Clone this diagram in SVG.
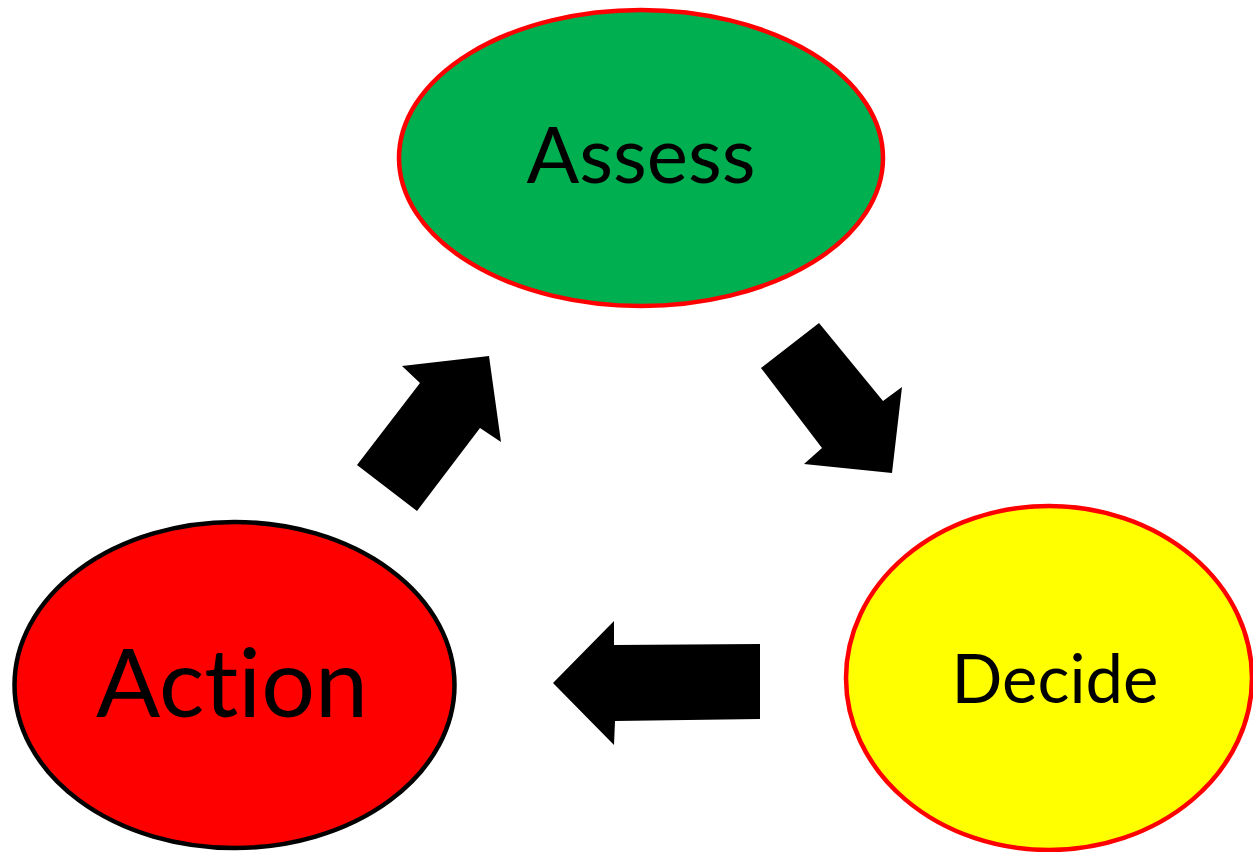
<svg xmlns="http://www.w3.org/2000/svg" width="1253" height="852" viewBox="0 0 1253 852">
<style>
.lbl{font-family:Lato,"Open Sans","Liberation Sans",sans-serif;fill:#000;text-anchor:middle;font-variant-ligatures:none;font-feature-settings:"liga" 0}
.arrow{fill:#000}
</style>
<rect width="1253" height="852" fill="#fff"/>
<g id="assess">
<ellipse cx="641" cy="158" rx="242" ry="148" fill="#00B050" stroke="#FF0000" stroke-width="4.5"/>
<text class="lbl" x="641" y="183" font-size="78">Assess</text>
</g>
<g id="decide">
<ellipse cx="1049" cy="678" rx="203" ry="172" fill="#FFFF00" stroke="#FF0000" stroke-width="4.5"/>
<text class="lbl" x="1055" y="703" font-size="67">Decide</text>
</g>
<g id="action">
<ellipse cx="234.5" cy="685" rx="220" ry="163" fill="#FF0000" stroke="#000" stroke-width="4.5"/>
<text class="lbl" x="232" y="717" font-size="95">Action</text>
</g>
<g id="connectors">
<polygon class="arrow" points="357,465 417,511 480,428 501,442 489,356 402,366 420,383"/>
<polygon class="arrow" points="819,323 761,368 822,448 804,464 892,473 902,387 883,401"/>
<polygon class="arrow" points="553,683 614,621 614,645 760,644 760,719 615,721 614,745"/>
</g>
</svg>
